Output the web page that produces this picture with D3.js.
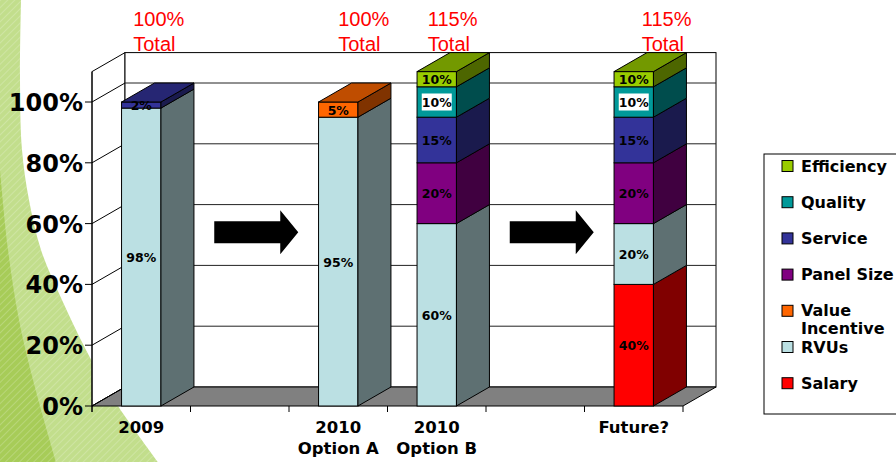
<!DOCTYPE html>
<html lang="en">
<head>
<meta charset="UTF-8">
<title>Compensation mix</title>
<script src="https://d3js.org/d3.v7.min.js"></script>
<style>
  html, body { margin: 0; padding: 0; background: #ffffff; }
  svg { display: block; }
  .ytick { font-family: "DejaVu Sans", sans-serif; font-weight: bold; font-size: 24px; }
  .xlab { font-family: "DejaVu Sans", sans-serif; font-weight: bold; font-size: 16.5px; }
  .vlab { font-family: "DejaVu Sans", sans-serif; font-weight: bold; font-size: 12.5px; }
  .total { font-family: "Liberation Sans", Arial, sans-serif; font-size: 20px; fill: #ff0000; }
  .legend text { font-family: "DejaVu Sans", sans-serif; font-weight: bold; font-size: 16px; }
</style>
</head>
<body>
<div id="chart"></div>
<script>
// categories (two empty slots hold the arrows)
const categories = ["2009", "gap1", "2010 Option A", "2010 Option B", "gap2", "Future?"];
const categoryLines = [["2009"], [], ["2010", "Option A"], ["2010", "Option B"], [], ["Future?"]];

// series, stacked bottom to top
const seriesNames = ["Salary", "RVUs", "Value Incentive", "Panel Size", "Service", "Quality", "Efficiency"];
const salary         = [0,  0, 0,  0,  0, 40];
const rvus           = [98, 0, 95, 60, 0, 20];
const valueIncentive = [0,  0, 5,  0,  0, 0];
const panelSize      = [0,  0, 0,  20, 0, 20];
const service        = [2,  0, 0,  15, 0, 15];
const quality        = [0,  0, 0,  10, 0, 10];
const efficiency     = [0,  0, 0,  10, 0, 10];

const totals = ["100%", "", "100%", "115%", "", "115%"];
const arrowSlots = ["gap1", "gap2"];
const yTicks = [0, 20, 40, 60, 80, 100];
const yMax = 110;

const seriesColors = ["#ff0000", "#bbe0e3", "#ff6600", "#800080", "#333399", "#009999", "#99cc00"];

// ---- layout
const W = 896, H = 462;
const plot = { left: 92, right: 683, bottom: 406, top: 71.6 };
const dx = 33, dy = -19;       // depth of the 3D box

const svg = d3.select("#chart").append("svg")
    .attr("width", W)
    .attr("height", H);

// slide background swoosh on the left
const defs = svg.append("defs");
const pat = defs.append("pattern")
    .attr("id", "stripes")
    .attr("patternUnits", "userSpaceOnUse")
    .attr("width", 5).attr("height", 5)
    .attr("patternTransform", "rotate(45)");
pat.append("line").attr("x1", 0).attr("y1", 0).attr("x2", 0).attr("y2", 5)
    .attr("stroke", "#ffffff").attr("stroke-opacity", 0.2).attr("stroke-width", 2);

const curve = d3.line().curve(d3.curveCatmullRom);
const outerEdge = [[21, 0], [20, 80], [22, 150], [29, 200], [41, 250], [62, 300], [86, 350], [114, 400], [158, 462]];
const innerEdge = [[0, 170], [8, 250], [19, 320], [33, 380], [56, 462]];
const outerPath = "M0,0L" + curve(outerEdge).slice(1) + "L0,462Z";
const innerPath = "M0,170L" + curve(innerEdge).slice(1) + "L0,462Z";
svg.append("path").attr("d", outerPath).attr("fill", "#c2de8c");
svg.append("path").attr("d", innerPath).attr("fill", "#a7cc58");
svg.append("path").attr("d", outerPath).attr("fill", "url(#stripes)");

// scales
const x = d3.scaleBand().domain(categories).range([plot.left, plot.right]);
const y = d3.scaleLinear().domain([0, yMax]).range([plot.bottom, plot.top]);
const bw = x.bandwidth();
const barW = bw * 0.4;
const cx = c => x(c) + bw / 2;

function shade(c, k) {
    const r = d3.rgb(c);
    return d3.rgb(r.r * k, r.g * k, r.b * k).formatHex();
}
const poly = pts => "M" + pts.map(p => p.join(",")).join("L") + "Z";

// ---- walls and floor
const g = svg.append("g");
g.append("path")
    .attr("d", poly([[plot.left, y(yMax)], [plot.left + dx, y(yMax) + dy], [plot.left + dx, y(0) + dy], [plot.left, y(0)]]))
    .attr("fill", "#fff").attr("stroke", "#000");
g.append("rect")
    .attr("x", plot.left + dx).attr("y", y(yMax) + dy)
    .attr("width", plot.right - plot.left).attr("height", y(0) - y(yMax))
    .attr("fill", "#fff").attr("stroke", "#000");
g.append("path")
    .attr("d", poly([[plot.left, y(0)], [plot.right, y(0)], [plot.right + dx, y(0) + dy], [plot.left + dx, y(0) + dy]]))
    .attr("fill", "#808080").attr("stroke", "#000");

// gridlines on the back wall and on the left wall
yTicks.filter(t => t > 0).forEach(t => {
    g.append("line")
        .attr("x1", plot.left + dx).attr("x2", plot.right + dx)
        .attr("y1", y(t) + dy).attr("y2", y(t) + dy)
        .attr("stroke", "#222");
});
yTicks.forEach(t => {
    g.append("line")
        .attr("x1", plot.left).attr("x2", plot.left + dx)
        .attr("y1", y(t)).attr("y2", y(t) + dy)
        .attr("stroke", "#000");
});

// y axis
g.append("line")
    .attr("x1", plot.left).attr("x2", plot.left)
    .attr("y1", y(yMax)).attr("y2", y(0) + 6)
    .attr("stroke", "#000");
yTicks.forEach(t => {
    g.append("line")
        .attr("x1", plot.left - 7).attr("x2", plot.left)
        .attr("y1", y(t)).attr("y2", y(t))
        .attr("stroke", "#000");
    g.append("text")
        .attr("class", "ytick")
        .attr("x", plot.left - 9).attr("y", y(t) + 1)
        .attr("text-anchor", "end")
        .attr("dominant-baseline", "central")
        .text(t + "%");
});

// x axis ticks and labels
const edges = categories.map(c => x(c)).concat([plot.right]);
edges.forEach(e => {
    g.append("line")
        .attr("x1", e).attr("x2", e)
        .attr("y1", y(0)).attr("y2", y(0) + 6)
        .attr("stroke", "#000");
});
categories.forEach((c, i) => {
    categoryLines[i].forEach((line, j) => {
        g.append("text")
            .attr("class", "xlab")
            .attr("x", cx(c))
            .attr("y", y(0) + 27 + j * 21)
            .attr("text-anchor", "middle")
            .text(line);
    });
});

// ---- stacked 3D bars
const rows = categories.map((c, i) => ({
    cat: c,
    "Salary": salary[i], "RVUs": rvus[i], "Value Incentive": valueIncentive[i],
    "Panel Size": panelSize[i], "Service": service[i], "Quality": quality[i], "Efficiency": efficiency[i]
}));
const stacked = d3.stack().keys(seriesNames)(rows);
const colorOf = d3.scaleOrdinal().domain(seriesNames).range(seriesColors);

const bars = svg.append("g");
categories.forEach((c, i) => {
    const segs = stacked
        .map(s => ({ key: s.key, v0: s[i][0], v1: Math.min(s[i][1], yMax), value: s[i][1] - s[i][0] }))
        .filter(d => d.value > 0 && d.v0 < yMax);
    if (!segs.length) return;
    const x0 = cx(c) - barW / 2, x1 = cx(c) + barW / 2;
    segs.forEach(d => {
        const col = colorOf(d.key);
        bars.append("rect")
            .attr("x", x0).attr("y", y(d.v1))
            .attr("width", barW).attr("height", y(d.v0) - y(d.v1))
            .attr("fill", col).attr("stroke", "#000");
        bars.append("path")
            .attr("d", poly([[x1, y(d.v1)], [x1 + dx, y(d.v1) + dy], [x1 + dx, y(d.v0) + dy], [x1, y(d.v0)]]))
            .attr("fill", shade(col, 0.5)).attr("stroke", "#000");
    });
    const top = segs[segs.length - 1];
    bars.append("path")
        .attr("d", poly([[x0, y(top.v1)], [x1, y(top.v1)], [x1 + dx, y(top.v1) + dy], [x0 + dx, y(top.v1) + dy]]))
        .attr("fill", shade(colorOf(top.key), 0.75)).attr("stroke", "#000");
    segs.forEach(d => {
        const my = (y(d.v0) + y(d.v1)) / 2;
        if (d.key === "Quality") {
            bars.append("rect")
                .attr("x", cx(c) - 15).attr("y", my - 8.5)
                .attr("width", 30).attr("height", 17)
                .attr("fill", "#fff");
        }
        bars.append("text")
            .attr("class", "vlab")
            .attr("x", cx(c)).attr("y", my + 0.5)
            .attr("text-anchor", "middle")
            .attr("dominant-baseline", "central")
            .text(d3.format("d")(d.value) + "%");
    });
});

// ---- red "Total" notes
const totalOffsets = [-8, 0, 0, -9, 0, 8];
categories.forEach((c, i) => {
    if (!totals[i]) return;
    const t = svg.append("text").attr("class", "total");
    t.append("tspan").attr("x", cx(c) + totalOffsets[i]).attr("y", y(yMax) - 45.5).text(totals[i]);
    t.append("tspan").attr("x", cx(c) + totalOffsets[i]).attr("y", y(yMax) - 21).text("Total");
});

// ---- arrows between the bars
const arrowLevel = 54;
arrowSlots.forEach(c => {
    const ax = cx(c) + dx / 2, ay = y(arrowLevel) + dy / 2;
    const shape = [[-42, -11], [24, -11], [24, -22], [42, 0], [24, 22], [24, 11], [-42, 11]];
    svg.append("path")
        .attr("d", poly(shape.map(p => [ax + p[0], ay + p[1]])))
        .attr("fill", "#000");
});

// ---- legend
const legend = svg.append("g").attr("class", "legend");
legend.append("rect")
    .attr("x", 764).attr("y", 154)
    .attr("width", 150).attr("height", 260)
    .attr("fill", "#fff").attr("stroke", "#000");
const legendItems = seriesNames.slice().reverse();
legendItems.forEach((name, i) => {
    const ly = 166 + i * 36.2;
    legend.append("rect")
        .attr("x", 782).attr("y", ly - 5.5)
        .attr("width", 11).attr("height", 11)
        .attr("fill", colorOf(name)).attr("stroke", "#000");
    const words = name === "Value Incentive" ? ["Value", "Incentive"] : [name];
    words.forEach((w, j) => {
        legend.append("text")
            .attr("x", 801).attr("y", ly + j * 18)
            .attr("dominant-baseline", "central")
            .text(w);
    });
});
</script>
</body>
</html>
